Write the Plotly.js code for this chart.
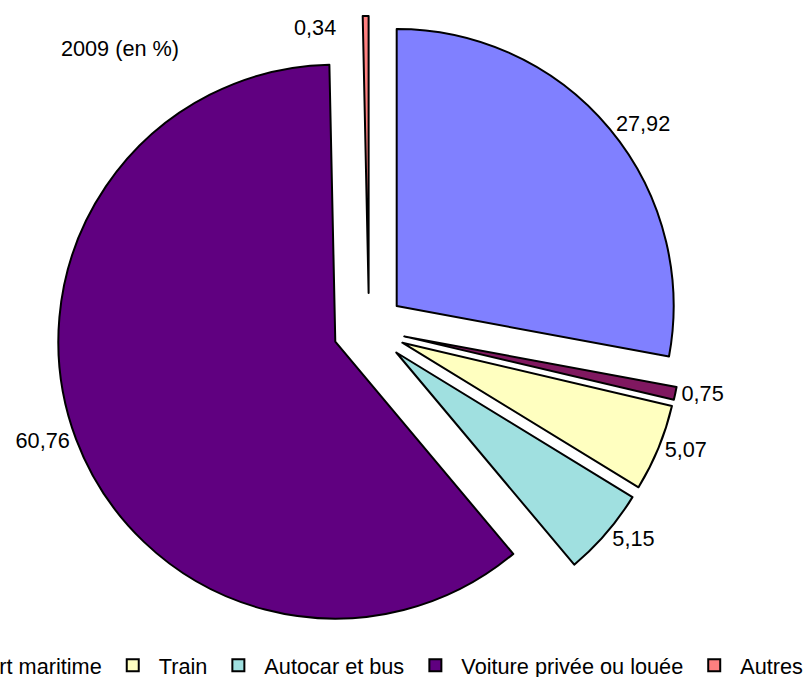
<!DOCTYPE html>
<html>
<head>
<meta charset="utf-8">
<script src="https://cdn.plot.ly/plotly-3.0.1.min.js"></script>
<style>
  html, body { margin: 0; padding: 0; overflow: hidden; width: 804px; height: 677px; background: #fff; }
  #chart { position: absolute; left: -280px; top: 0; width: 1150px; height: 677px; }
</style>
</head>
<body>
<div id="chart"></div>
<script>
const labels = ["Avion", "Transport maritime", "Train", "Autocar et bus", "Voiture privée ou louée", "Autres"];
const values = [27.92, 0.75, 5.07, 5.15, 60.76, 0.34];
const colors = ["#8080FF", "#801860", "#FFFFC0", "#A0E0E0", "#600080", "#FF8080"];
const titleText = "2009 (en %)";

const FONT = "Liberation Sans, Arial, sans-serif";
const FS = 21.7;

// the smallest slice's label is set beside it (as in the reference) instead of above it
const lastIdx = values.length - 1;
const templates = values.map((v, i) => i === lastIdx ? "" : "%{value:.2f}");
const fmt = v => v.toFixed(2).replace(".", ",");

const trace = {
  type: "pie",
  labels: labels,
  values: values,
  sort: false,
  direction: "clockwise",
  rotation: 0,
  pull: labels.map(() => 0.13),
  marker: { colors: colors, line: { color: "#000000", width: 2 } },
  textinfo: "value",
  texttemplate: templates,
  textposition: "outside",
  outsidetextfont: { family: FONT, size: FS, color: "#000000" },
  hoverinfo: "none",
  domain: { x: [0.2922, 0.8365], y: [0.0517, 0.9764] }
};

const layout = {
  width: 1150,
  height: 677,
  margin: { l: 0, r: 0, t: 0, b: 0, autoexpand: false },
  paper_bgcolor: "#ffffff",
  plot_bgcolor: "#ffffff",
  separators: ", ",
  font: { family: FONT, size: FS, color: "#000000" },
  title: {
    text: titleText,
    font: { family: FONT, size: FS, color: "#000000" },
    xref: "paper", yref: "paper",
    x: 0.3478, xanchor: "center",
    y: 0.929, yanchor: "middle"
  },
  annotations: [{
    text: fmt(values[lastIdx]),
    xref: "paper", yref: "paper",
    x: 0.5174, y: 0.9594,
    xanchor: "center", yanchor: "middle",
    showarrow: false,
    font: { family: FONT, size: FS, color: "#000000" }
  }],
  showlegend: true,
  legend: {
    orientation: "h",
    x: 0.0328, xanchor: "left",
    y: 0.0478, yanchor: "top",
    itemwidth: 42,
    traceorder: "normal",
    font: { family: FONT, size: FS, color: "#000000" },
    bgcolor: "rgba(0,0,0,0)"
  }
};

Plotly.newPlot("chart", [trace], layout, { displayModeBar: false, staticPlot: true });
</script>
</body>
</html>
